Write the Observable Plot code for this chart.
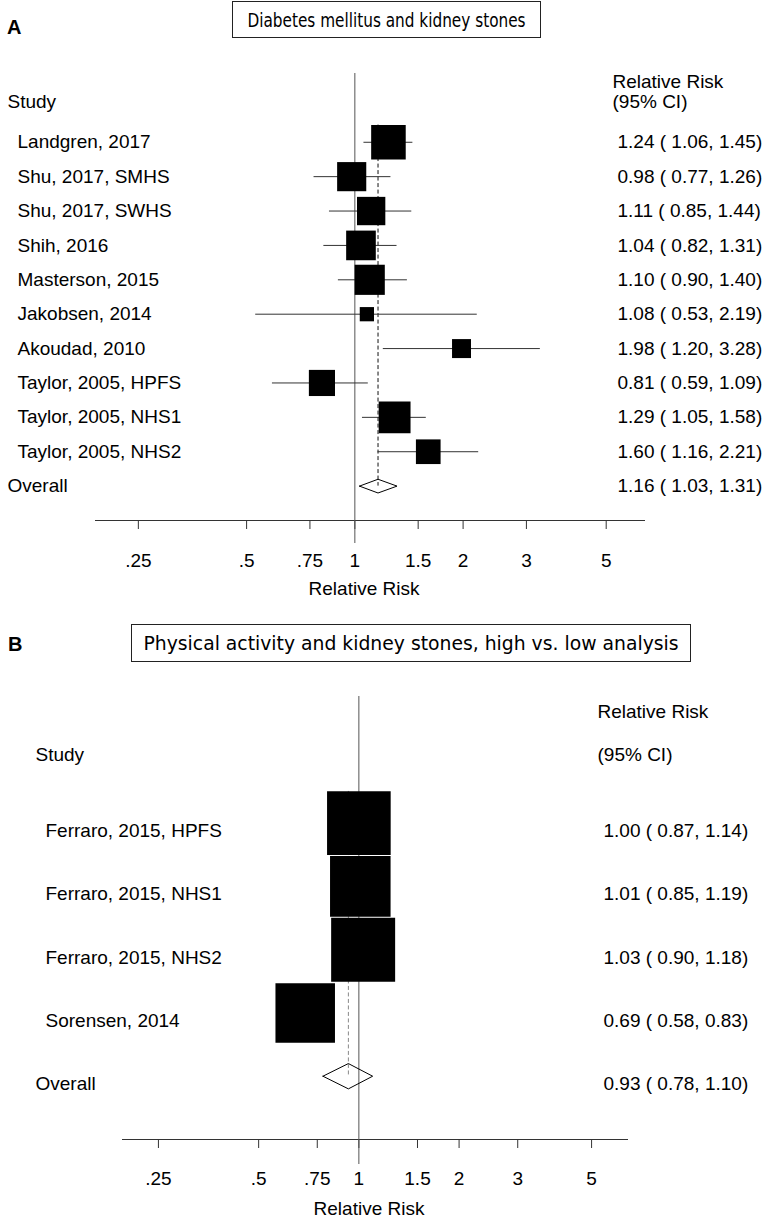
<!DOCTYPE html>
<html>
<head>
<meta charset="utf-8">
<script src="https://cdn.jsdelivr.net/npm/d3@7"></script>
<script src="https://cdn.jsdelivr.net/npm/@observablehq/plot@0.6"></script>
<style>
  html, body { margin: 0; padding: 0; background: #fff; }
  #wrap { position: relative; width: 767px; height: 1221px; overflow: hidden; font-family: "Liberation Sans", Arial, sans-serif; }
  .letter { position: absolute; font-weight: bold; font-size: 20px; line-height: 20px; color: #000; }
  .tbox { position: absolute; box-sizing: border-box; border: 1px solid #222; background: #fff;
          display: flex; align-items: center; justify-content: center; color: #000; white-space: nowrap; }
  .tbox span { display: inline-block; }
  .panel { position: absolute; left: 0; }
</style>
</head>
<body>
<div id="wrap">
  <div id="panelA" class="panel" style="top:0px"></div>
  <div id="panelB" class="panel" style="top:600px"></div>
  <div class="letter" style="left:7px; top:17px">A</div>
  <div class="tbox" style="left:232px; top:1px; width:309px; height:37px; font-family:'DejaVu Sans Condensed','DejaVu Sans',sans-serif; font-size:17px;"><span style="transform: scaleY(1.1)">Diabetes mellitus and kidney stones</span></div>
  <div class="letter" style="left:8px; top:634px">B</div>
  <div class="tbox" style="left:131px; top:624px; width:560px; height:38px; font-family:'DejaVu Sans',sans-serif; font-size:18.8px;"><span>Physical activity and kidney stones, high vs. low analysis</span></div>
</div>
<script>
// ---------- Data: panel A (Diabetes mellitus and kidney stones) ----------
const aStudies = ["Landgren, 2017", "Shu, 2017, SMHS", "Shu, 2017, SWHS", "Shih, 2016", "Masterson, 2015",
                  "Jakobsen, 2014", "Akoudad, 2010", "Taylor, 2005, HPFS", "Taylor, 2005, NHS1", "Taylor, 2005, NHS2"];
const aRR     = [1.24, 0.98, 1.11, 1.04, 1.10, 1.08, 1.98, 0.81, 1.29, 1.60];
const aLo     = [1.06, 0.77, 0.85, 0.82, 0.90, 0.53, 1.20, 0.59, 1.05, 1.16];
const aHi     = [1.45, 1.26, 1.44, 1.31, 1.40, 2.19, 3.28, 1.09, 1.58, 2.21];
const aWeight = [15.9, 11.3, 10.7, 11.7, 12.1, 2.7, 4.8, 9.1, 13.5, 8.1];
const aOverallRR = 1.16, aOverallLo = 1.03, aOverallHi = 1.31;

// ---------- Data: panel B (Physical activity and kidney stones) ----------
const bStudies = ["Ferraro, 2015, HPFS", "Ferraro, 2015, NHS1", "Ferraro, 2015, NHS2", "Sorensen, 2014"];
const bRR     = [1.00, 1.01, 1.03, 0.69];
const bLo     = [0.87, 0.85, 0.90, 0.58];
const bHi     = [1.14, 1.19, 1.18, 0.83];
const bWeight = [26.4, 23.9, 26.7, 23.1];
const bOverallRR = 0.93, bOverallLo = 0.78, bOverallHi = 1.10;

// ---------- Axis ticks ----------
const tickValues = [0.25, 0.5, 0.75, 1, 1.5, 2, 3, 5];
const tickLabels = [".25", ".5", ".75", "1", "1.5", "2", "3", "5"];

const fmt = (v) => v.toFixed(2);
const ciText = (r, l, h) => `${fmt(r)} ( ${fmt(l)}, ${fmt(h)})`;

function forest(cfg) {
  const rows = cfg.studies.map((s, i) => ({study: s, rr: cfg.rr[i], lo: cfg.lo[i], hi: cfg.hi[i], w: cfg.w[i], row: i}));
  const n = rows.length;
  const overall = [{study: "Overall", rr: cfg.orr, lo: cfg.olo, hi: cfg.ohi, row: n}];
  const dia = [
    {x: cfg.olo, y: n}, {x: cfg.orr, y: n - 0.2}, {x: cfg.ohi, y: n}, {x: cfg.orr, y: n + 0.2}, {x: cfg.olo, y: n}
  ];
  const dashed = [{x: cfg.orr, y1: -0.5, y2: n}];
  const ticks = tickValues.map((v, i) => ({v, label: tickLabels[i]}));
  return Plot.plot({
    width: 767,
    height: cfg.height,
    marginTop: cfg.mt, marginBottom: cfg.mb, marginLeft: cfg.ml, marginRight: cfg.mr,
    style: {fontFamily: "'Liberation Sans', Arial, sans-serif", fontSize: "19px", color: "#000", background: "transparent", overflow: "visible"},
    x: {type: "log", domain: cfg.xdomain, axis: null},
    y: {domain: [-2, n + 1], reverse: true, axis: null},
    r: {type: "sqrt", domain: [0, d3.max(cfg.w)], range: [0, cfg.rmax]},
    marks: [
      Plot.frame({anchor: "bottom", stroke: "#333"}),
      Plot.axisX({ticks: tickValues, tickFormat: () => "", tickSize: 9, stroke: "#333"}),
      Plot.text(ticks, {x: "v", text: "label", frameAnchor: "bottom", lineAnchor: "middle", dy: cfg.tickDy, fill: "#000"}),
      Plot.ruleX([1], {stroke: "#555", insetBottom: -cfg.nullExt}),
      Plot.ruleX(dashed, {x: "x", y1: "y1", y2: "y2", stroke: cfg.dashColor, strokeDasharray: "4,2.5"}),
      Plot.ruleY(rows, {y: "row", x1: "lo", x2: "hi", stroke: "#333"}),
      Plot.dot(rows, {x: "rr", y: "row", r: "w", symbol: "square", fill: "#000", stroke: null}),
      Plot.line(dia, {x: "x", y: "y", stroke: "#000", strokeWidth: 1}),
      // study labels
      Plot.text(rows, {y: "row", text: "study", frameAnchor: "left", textAnchor: "start", lineAnchor: "middle", dx: cfg.labelDx, dy: cfg.textDy}),
      Plot.text(overall, {y: "row", text: "study", frameAnchor: "left", textAnchor: "start", lineAnchor: "middle", dx: cfg.headDx, dy: cfg.textDy}),
      // estimates
      Plot.text(rows, {y: "row", text: (d) => ciText(d.rr, d.lo, d.hi), frameAnchor: "right", textAnchor: "start", lineAnchor: "middle", dx: cfg.valDx, dy: cfg.textDy}),
      Plot.text(overall, {y: "row", text: (d) => ciText(d.rr, d.lo, d.hi), frameAnchor: "right", textAnchor: "start", lineAnchor: "middle", dx: cfg.valDx, dy: cfg.textDy}),
      // headers
      Plot.text(["Study"], {frameAnchor: "top-left", textAnchor: "start", lineAnchor: "middle", dx: cfg.headDx, dy: cfg.studyDy}),
      Plot.text(["Relative Risk"], {frameAnchor: "top-right", textAnchor: "start", lineAnchor: "middle", dx: cfg.rrHeadDx, dy: cfg.rrHeadDy}),
      Plot.text(["(95% CI)"], {frameAnchor: "top-right", textAnchor: "start", lineAnchor: "middle", dx: cfg.rrHeadDx, dy: cfg.ciHeadDy}),
      // axis title
      Plot.text(["Relative Risk"], {frameAnchor: "bottom", lineAnchor: "middle", dx: cfg.axisLabelDx, dy: cfg.axisLabelDy})
    ]
  });
}

document.getElementById("panelA").append(forest({
  studies: aStudies, rr: aRR, lo: aLo, hi: aHi, w: aWeight,
  orr: aOverallRR, olo: aOverallLo, ohi: aOverallHi,
  height: 600, mt: 73, mb: 80, ml: 95, mr: 123,
  xdomain: [0.190, 6.39], rmax: 19.5, nullExt: 23, dashColor: "#111",
  labelDx: -78, headDx: -88, valDx: -27, rrHeadDx: -32, textDy: 0, tickDy: 40,
  studyDy: 28, rrHeadDy: 8, ciHeadDy: 28, axisLabelDx: -6, axisLabelDy: 68
}));

document.getElementById("panelB").append(forest({
  studies: bStudies, rr: bRR, lo: bLo, hi: bHi, w: bWeight,
  orr: bOverallRR, olo: bOverallLo, ohi: bOverallHi,
  height: 621, mt: 96, mb: 82, ml: 122, mr: 140,
  xdomain: [0.195, 6.41], rmax: 36.1, nullExt: 25, dashColor: "#888",
  labelDx: -77, headDx: -87, valDx: -24, rrHeadDx: -30, textDy: 8, tickDy: 39,
  studyDy: 58, rrHeadDy: 15, ciHeadDy: 58, axisLabelDx: -6, axisLabelDy: 69
}));
</script>
</body>
</html>
